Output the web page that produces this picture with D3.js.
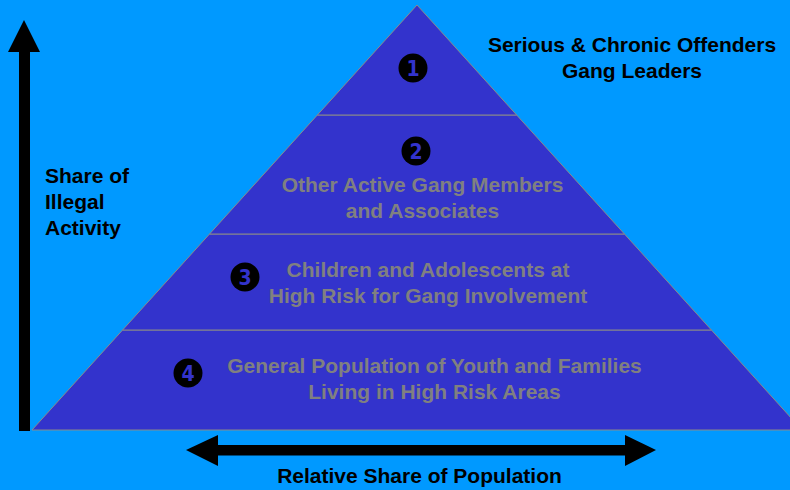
<!DOCTYPE html>
<html>
<head>
<meta charset="utf-8">
<script src="https://cdn.jsdelivr.net/npm/d3@7"></script>
<style>
  html, body { margin: 0; padding: 0; background: #0099FF; }
  svg { display: block; }
</style>
</head>
<body>
<svg id="chart" width="790" height="490"></svg>
<script>
// ---- data ----
// tier boundaries as fraction of pyramid height (0 = base, 1 = apex)
const tierBounds = [0, 0.235, 0.461, 0.741, 1];
const tierNumbers = ["1", "2", "3", "4"]; // top to bottom
const tierLabels = [
  [],
  ["Other Active Gang Members", "and Associates"],
  ["Children and Adolescents at", "High Risk for Gang Involvement"],
  ["General Population of Youth and Families", "Living in High Risk Areas"]
];
const topLabel = ["Serious & Chronic Offenders", "Gang Leaders"];
const yAxisLabel = ["Share of", "Illegal", "Activity"];
const xAxisLabel = "Relative Share of Population";

// ---- layout ----
const W = 790, H = 490;
const svg = d3.select("#chart");
const apexX = 417;
const halfBase = 385;
const y = d3.scaleLinear().domain([0, 1]).range([430, 5]);
const halfW = d3.scaleLinear().domain([0, 1]).range([halfBase, 0]);

const bg = "#0099FF", fillC = "#3333CC", lineC = "#8a8a8a", grayText = "#808080";
const font = "'Liberation Sans', Arial, Helvetica, sans-serif";

svg.append("rect").attr("width", W).attr("height", H).attr("fill", bg);

// pyramid
const pts = [[apexX - halfW(0), y(0)], [apexX, y(1)], [apexX + halfW(0), y(0)]];
svg.append("path")
  .attr("d", d3.line()(pts) + "Z")
  .attr("fill", fillC)
  .attr("stroke", lineC)
  .attr("stroke-width", 1);

// dividers
svg.selectAll("line.div").data(tierBounds.slice(1, -1)).enter()
  .append("line").attr("class", "div")
  .attr("x1", d => apexX - halfW(d)).attr("x2", d => apexX + halfW(d))
  .attr("y1", d => y(d)).attr("y2", d => y(d))
  .attr("stroke", lineC).attr("stroke-width", 1.2);

// number badges (top to bottom)
const badgePos = [[413, 68], [416, 151], [245, 277], [188, 373]];
const badges = svg.selectAll("g.badge").data(tierNumbers).enter()
  .append("g").attr("class", "badge")
  .attr("transform", (d, i) => `translate(${badgePos[i][0]},${badgePos[i][1]})`);
badges.append("circle").attr("r", 14.5).attr("fill", "#000");
badges.append("text")
  .attr("text-anchor", "middle").attr("y", 7.5)
  .attr("font-family", "'DejaVu Sans Condensed', 'DejaVu Sans', sans-serif")
  .attr("font-size", 21).attr("font-weight", "bold")
  .attr("fill", fillC)
  .text(d => d);

// tier labels
const labelCenters = [null, [422.5, 192], [428, 277], [434.5, 373]];
tierLabels.forEach((lines, i) => {
  if (!lines.length) return;
  const t = svg.append("text")
    .attr("font-family", font).attr("font-size", 21).attr("font-weight", "bold")
    .attr("fill", grayText).attr("text-anchor", "middle");
  lines.forEach((ln, j) => {
    t.append("tspan").attr("x", labelCenters[i][0]).attr("y", labelCenters[i][1] + j * 26).text(ln);
  });
});

// top-right label
const tl = svg.append("text")
  .attr("font-family", font).attr("font-size", 21).attr("font-weight", "bold")
  .attr("fill", "#000").attr("text-anchor", "middle");
topLabel.forEach((ln, j) => tl.append("tspan").attr("x", 632).attr("y", 52 + j * 26).text(ln));

// y axis label
const yl = svg.append("text")
  .attr("font-family", font).attr("font-size", 21).attr("font-weight", "bold")
  .attr("fill", "#000");
yAxisLabel.forEach((ln, j) => yl.append("tspan").attr("x", 45).attr("y", 183 + j * 26).text(ln));

// vertical arrow
svg.append("rect").attr("x", 19).attr("y", 50).attr("width", 11).attr("height", 381).attr("fill", "#000");
svg.append("path").attr("d", "M24,20 L40,52 L8,52 Z").attr("fill", "#000");

// horizontal arrow
svg.append("rect").attr("x", 215).attr("y", 445).attr("width", 413).attr("height", 10.5).attr("fill", "#000");
svg.append("path").attr("d", "M186,450 L218,435 L218,466 Z").attr("fill", "#000");
svg.append("path").attr("d", "M656,450 L625,435 L625,466 Z").attr("fill", "#000");

// x label
svg.append("text")
  .attr("x", 419.5).attr("y", 483)
  .attr("font-family", font).attr("font-size", 21).attr("font-weight", "bold")
  .attr("fill", "#000").attr("text-anchor", "middle")
  .text(xAxisLabel);
</script>
</body>
</html>
